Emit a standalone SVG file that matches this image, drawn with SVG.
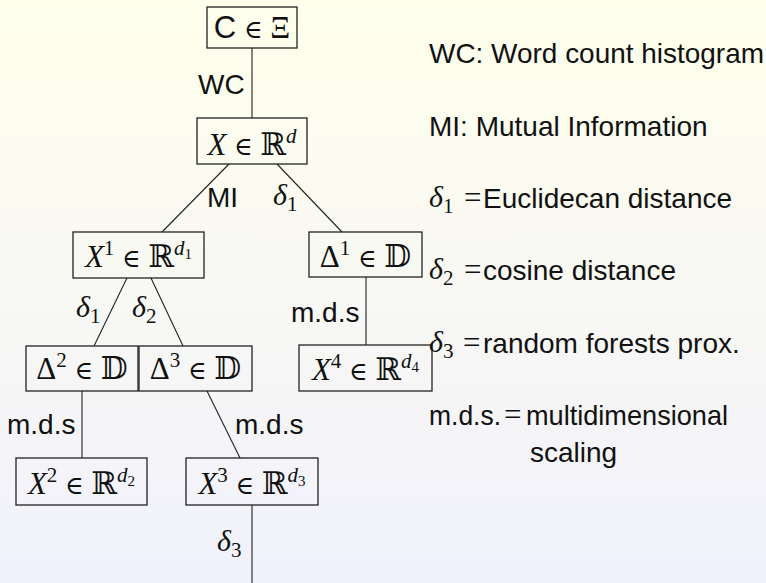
<svg xmlns="http://www.w3.org/2000/svg" width="766" height="583" viewBox="0 0 766 583">
<defs>
<linearGradient id="bg" x1="0" y1="0" x2="0" y2="1">
<stop offset="0" stop-color="#FFFFEC"/>
<stop offset="1" stop-color="#F1F1FC"/>
</linearGradient>
<style>
.box{fill:none;stroke:#222;stroke-width:1.3}
.edge{stroke:#222;stroke-width:1.1;fill:none}
.m{font-family:"Liberation Serif","DejaVu Serif",serif;font-size:31px;fill:#111}
.i{font-style:italic}
.s{font-family:"Liberation Sans","DejaVu Sans",sans-serif;font-size:28px;fill:#111}
.bb{font-family:"DejaVu Serif","DejaVu Sans",serif}
.el{font-family:"DejaVu Serif",serif;font-size:25px}
.sup{font-size:21px}
.sub2{font-size:15px}
.d{font-family:"Liberation Serif","DejaVu Serif",serif;font-size:30px;font-style:italic;fill:#111}
.dn{font-style:normal;font-size:21px}
</style>
</defs>
<rect x="0" y="0" width="766" height="583" fill="url(#bg)"/>

<g id="connectors">
<line class="edge" x1="252" y1="48" x2="252" y2="118"/>
<line class="edge" x1="229" y1="164" x2="162" y2="232"/>
<line class="edge" x1="277" y1="164" x2="342" y2="232"/>
<line class="edge" x1="127" y1="278" x2="94" y2="346"/>
<line class="edge" x1="151" y1="278" x2="183" y2="346"/>
<line class="edge" x1="366" y1="277" x2="366" y2="345"/>
<line class="edge" x1="82" y1="391" x2="82" y2="458"/>
<line class="edge" x1="207" y1="391" x2="240" y2="458"/>
<line class="edge" x1="252" y1="505" x2="252" y2="583"/>
<text class="s" x="198" y="94">WC</text>
<text class="s" x="207" y="207">MI</text>
<text class="d" x="273" y="205">δ<tspan class="dn" dy="6">1</tspan></text>
<text class="d" x="76" y="317">δ<tspan class="dn" dy="6">1</tspan></text>
<text class="d" x="132" y="317">δ<tspan class="dn" dy="6">2</tspan></text>
<text class="s" x="291" y="322">m.d.s</text>
<text class="s" x="7" y="434">m.d.s</text>
<text class="s" x="235" y="434">m.d.s</text>
<text class="d" x="217" y="551">δ<tspan class="dn" dy="6">3</tspan></text>
</g>

<g id="nC">
<rect class="box" x="207" y="7" width="90" height="41"/>
<text class="m" x="252" y="38" text-anchor="middle"><tspan font-family="Liberation Sans, sans-serif">C</tspan> <tspan class="el">∈</tspan> Ξ</text>
</g>
<g id="nX">
<rect class="box" x="197" y="118" width="110" height="46"/>
<text class="m" x="252" y="155" text-anchor="middle"><tspan class="i">X</tspan> <tspan class="el">∈</tspan> <tspan class="bb">ℝ</tspan><tspan class="i sup" dy="-12">d</tspan></text>
</g>
<g id="nX1">
<rect class="box" x="73" y="232" width="131" height="46"/>
<text class="m" x="138.5" y="267" text-anchor="middle"><tspan class="i">X</tspan><tspan class="sup" dy="-12">1</tspan><tspan dy="12"> </tspan><tspan class="el">∈</tspan> <tspan class="bb">ℝ</tspan><tspan class="i sup" dy="-12">d</tspan><tspan class="sub2" dy="4">1</tspan></text>
</g>
<g id="nD1">
<rect class="box" x="309" y="232" width="113" height="45"/>
<text class="m" x="365.5" y="267" text-anchor="middle">Δ<tspan class="sup" dy="-12">1</tspan><tspan dy="12"> </tspan><tspan class="el">∈</tspan> <tspan class="bb">𝔻</tspan></text>
</g>
<g id="nX4">
<rect class="box" x="299" y="345" width="133" height="46"/>
<text class="m" x="365.5" y="380" text-anchor="middle"><tspan class="i">X</tspan><tspan class="sup" dy="-12">4</tspan><tspan dy="12"> </tspan><tspan class="el">∈</tspan> <tspan class="bb">ℝ</tspan><tspan class="i sup" dy="-12">d</tspan><tspan class="sub2" dy="4">4</tspan></text>
</g>
<g id="nD2">
<rect class="box" x="26" y="346" width="112" height="45"/>
<text class="m" x="82" y="379" text-anchor="middle">Δ<tspan class="sup" dy="-12">2</tspan><tspan dy="12"> </tspan><tspan class="el">∈</tspan> <tspan class="bb">𝔻</tspan></text>
</g>
<g id="nD3">
<rect class="box" x="139" y="346" width="113" height="45"/>
<text class="m" x="195.5" y="379" text-anchor="middle">Δ<tspan class="sup" dy="-12">3</tspan><tspan dy="12"> </tspan><tspan class="el">∈</tspan> <tspan class="bb">𝔻</tspan></text>
</g>
<g id="nX2">
<rect class="box" x="16" y="458" width="131" height="47"/>
<text class="m" x="81.5" y="494" text-anchor="middle"><tspan class="i">X</tspan><tspan class="sup" dy="-12">2</tspan><tspan dy="12"> </tspan><tspan class="el">∈</tspan> <tspan class="bb">ℝ</tspan><tspan class="i sup" dy="-12">d</tspan><tspan class="sub2" dy="4">2</tspan></text>
</g>
<g id="nX3">
<rect class="box" x="186" y="458" width="132" height="47"/>
<text class="m" x="252" y="494" text-anchor="middle"><tspan class="i">X</tspan><tspan class="sup" dy="-12">3</tspan><tspan dy="12"> </tspan><tspan class="el">∈</tspan> <tspan class="bb">ℝ</tspan><tspan class="i sup" dy="-12">d</tspan><tspan class="sub2" dy="4">3</tspan></text>
</g>

<g id="legend">
<text class="s" x="429" y="63" textLength="335" lengthAdjust="spacingAndGlyphs">WC: Word count histogram</text>
<text class="s" x="429" y="136">MI: Mutual Information</text>
<text class="d" x="429" y="207">δ<tspan class="dn" dy="6">1</tspan></text>
<text class="m" x="464" y="208">=</text>
<text class="s" x="483" y="208">Euclidecan distance</text>
<text class="d" x="429" y="279">δ<tspan class="dn" dy="6">2</tspan></text>
<text class="m" x="464" y="280">=</text>
<text class="s" x="483" y="280">cosine distance</text>
<text class="d" x="429" y="352">δ<tspan class="dn" dy="6">3</tspan></text>
<text class="m" x="463" y="353">=</text>
<text class="s" x="483" y="353">random forests prox.</text>
<text class="s" x="429" y="425" textLength="72" lengthAdjust="spacingAndGlyphs">m.d.s.</text>
<text class="m" x="504" y="425">=</text>
<text class="s" x="526" y="425" textLength="202" lengthAdjust="spacingAndGlyphs">multidimensional</text>
<text class="s" x="530" y="462">scaling</text>
</g>
</svg>
